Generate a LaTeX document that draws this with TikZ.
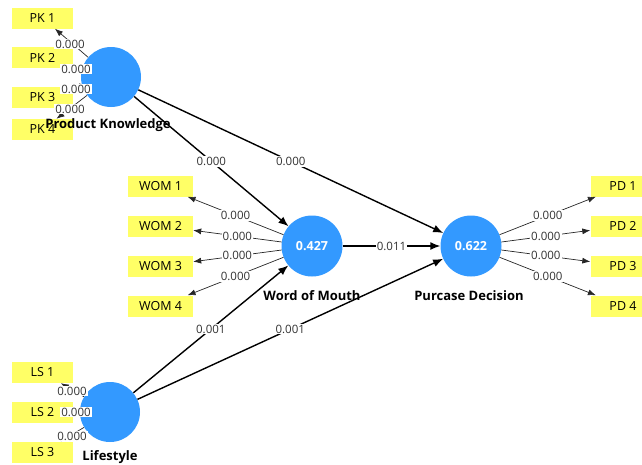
\documentclass[tikz,border=0pt]{standalone}
\usepackage{fontspec}
\setmainfont{Open Sans}
\usetikzlibrary{arrows.meta}
\definecolor{lvblue}{RGB}{51,153,255}
\definecolor{mvyellow}{RGB}{255,255,102}
\begin{document}
\begin{tikzpicture}[x=1pt,y=-1pt,
  lv/.style={circle,fill=lvblue,draw=none,minimum size=61pt,inner sep=0pt,text=white,font=\bfseries\fontsize{12.5}{14}\selectfont},
  mv/.style={rectangle,fill=mvyellow,minimum width=61pt,minimum height=21pt,inner sep=0pt,font=\fontsize{12.5}{14}\selectfont},
  mvw/.style={mv,minimum width=65pt},
  lvlab/.style={font=\bfseries\fontsize{13}{15}\selectfont,inner sep=0pt},
  coef/.style={fill=white,inner sep=1pt,text=black!80,font=\fontsize{11.5}{13}\selectfont},
  load/.style={-{Latex[length=8pt,width=6pt]},line width=0.7pt,draw=black!85},
  inner/.style={-{Latex[length=10pt,width=8pt]},line width=1.4pt,draw=black}]
\useasboundingbox (0,0) rectangle (642,464);

% indicator boxes
\node[mv] (pk1) at (42.5,18) {PK 1};
\node[mv] (pk2) at (42.5,57.5) {PK 2};
\node[mv] (pk3) at (42.5,97.5) {PK 3};
\node[mv] (pk4) at (42.5,129.5) {PK 4};
\node[mv] (ls1) at (42.5,372.5) {LS 1};
\node[mv] (ls2) at (42.5,412.5) {LS 2};
\node[mv] (ls3) at (42.5,452) {LS 3};
\node[mvw] (wom1) at (160.5,186) {WOM 1};
\node[mvw] (wom2) at (160.5,226) {WOM 2};
\node[mvw] (wom3) at (160.5,266) {WOM 3};
\node[mvw] (wom4) at (160.5,306) {WOM 4};
\node[mvw] (pd1) at (623,186) {PD 1};
\node[mvw] (pd2) at (623,226) {PD 2};
\node[mvw] (pd3) at (623,266) {PD 3};
\node[mvw] (pd4) at (623,306) {PD 4};

% latent variables
\node[lv,minimum size=60pt] (pk) at (111,77) {};
\node[lv,minimum size=60pt] (ls) at (110,412) {};
\node[lv] (wom) at (312,246) {0.427};
\node[lv] (pd) at (471,246) {0.622};

% outer loadings
\draw[load] (pk) -- (pk1);
\draw[load] (pk) -- (pk2);
\draw[load] (pk) -- (pk3);
\draw[load] (pk) -- (pk4);
\draw[load] (ls) -- (ls1);
\draw[load] (ls) -- (ls2);
\draw[load] (ls) -- (ls3);
\draw[load] (wom) -- node[coef,pos=0.5] (cw1) {0.000} (wom1);
\draw[load] (wom) -- node[coef,pos=0.5] (cw2) {0.000} (wom2);
\draw[load] (wom) -- node[coef,pos=0.5] (cw3) {0.000} (wom3);
\draw[load] (wom) -- node[coef,pos=0.5] (cw4) {0.000} (wom4);
\draw[load] (pd) -- node[coef,pos=0.5] (cp1) {0.000} (pd1);
\draw[load] (pd) -- node[coef,pos=0.5] (cp2) {0.000} (pd2);
\draw[load] (pd) -- node[coef,pos=0.5] (cp3) {0.000} (pd3);
\draw[load] (pd) -- node[coef,pos=0.5] (cp4) {0.000} (pd4);

\node[coef] (ck1) at (70,44) {0.000};
\node[coef] (ck2) at (76,69) {0.000};
\node[coef] (ck3) at (76,89) {0.000};
\node[coef] (ck4) at (70,109) {0.000};
\node[coef] (cl1) at (72,391) {0.000};
\node[coef] (cl2) at (76,412) {0.000};
\node[coef] (cl3) at (72,436) {0.000};

% inner model
\draw[inner] (pk) -- node[coef,pos=0.5] (c1) {0.000} (wom);
\draw[inner] (pk) -- node[coef,pos=0.5] (c2) {0.000} (pd);
\draw[inner] (wom) -- node[coef,pos=0.5] (c3) {0.011} (pd);
\draw[inner] (ls) -- node[coef,pos=0.5] (c4) {0.001} (wom);
\draw[inner] (ls) -- node[coef,pos=0.5] (c5) {0.001} (pd);

% names
\node[lvlab] (npk) at (108,125) {Product Knowledge};
\node[lvlab] (nls) at (110,457) {Lifestyle};
\node[lvlab] (nwom) at (312,296) {Word of Mouth};
\node[lvlab] (npd) at (469,296) {Purcase Decision};
\end{tikzpicture}
\end{document}
